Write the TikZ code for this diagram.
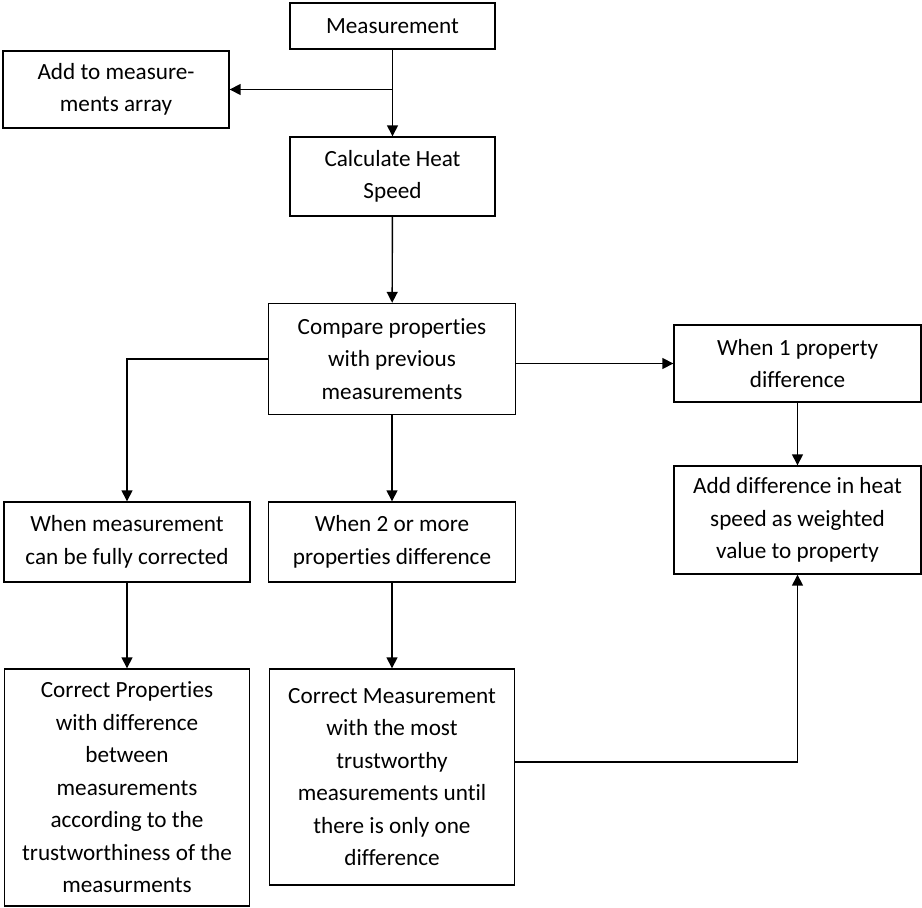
\documentclass[tikz,border=0pt]{standalone}
\usepackage{fontspec}
\setmainfont[Ligatures=NoCommon]{Carlito}
\usepackage{tikz}
\usetikzlibrary{arrows.meta}

\tikzset{
	box/.style={draw,line width=0.8pt,align=center,inner sep=2pt,font=\fontsize{13.2}{18.5}\selectfont},
	>={Triangle[length=2.2mm,width=2.2mm]}
}

\begin{document}
\begin{tikzpicture}[x=0.02cm,y=-0.02cm,line width=0.8pt]

\useasboundingbox (0,0) rectangle (922,908);

\node (meas) at (392.5,26) [box,minimum width=4.1cm,minimum height=0.92cm] {Measurement};
\node (addarr) at (116,89.5) [box,minimum width=4.52cm,minimum height=1.54cm] {Add to measure-\\ments array};
\node (calc) at (392.5,176.5) [box,minimum width=4.1cm,minimum height=1.58cm] {Calculate Heat\\Speed};
\node (comp) at (392,359) [box,minimum width=4.94cm,minimum height=2.22cm] {Compare properties\\with previous\\measurements};
\node (one) at (797.5,363.5) [box,minimum width=4.94cm,minimum height=1.54cm] {When 1 property\\difference};
\node (adddiff) at (797.5,520) [box,minimum width=4.94cm,minimum height=2.16cm] {Add difference in heat\\speed as weighted\\value to property};
\node (full) at (127,542) [box,minimum width=4.92cm,minimum height=1.6cm] {When measurement\\can be fully corrected};
\node (two) at (392,542) [box,minimum width=4.94cm,minimum height=1.6cm] {When 2 or more\\properties difference};
\node (corrprop) at (127,787.5) [box,minimum width=4.9cm,minimum height=4.74cm] {Correct Properties\\with difference\\between\\measurements\\according to the\\trustworthiness of the\\measurments};
\node (corrmeas) at (392,777) [box,minimum width=4.9cm,minimum height=4.32cm] {Correct Measurement\\with the most\\trustworthy\\measurements until\\there is only one\\difference};

\draw [->] (meas) -- (calc);
\draw [->] (meas.south |- addarr.east) -- (addarr.east);
\draw [->] (calc) -- (comp);
\draw [->] (comp.west) -| (full.north);
\draw [->] (comp) -- (two);
\draw [->] (comp.east |- one.west) -- (one.west);
\draw [->] (one) -- (adddiff);
\draw [->] (full) -- (corrprop);
\draw [->] (two) -- (two |- corrmeas.north);
\draw [->] ([yshift=0.3cm]corrmeas.east) -| (adddiff.south);

\end{tikzpicture}
\end{document}
